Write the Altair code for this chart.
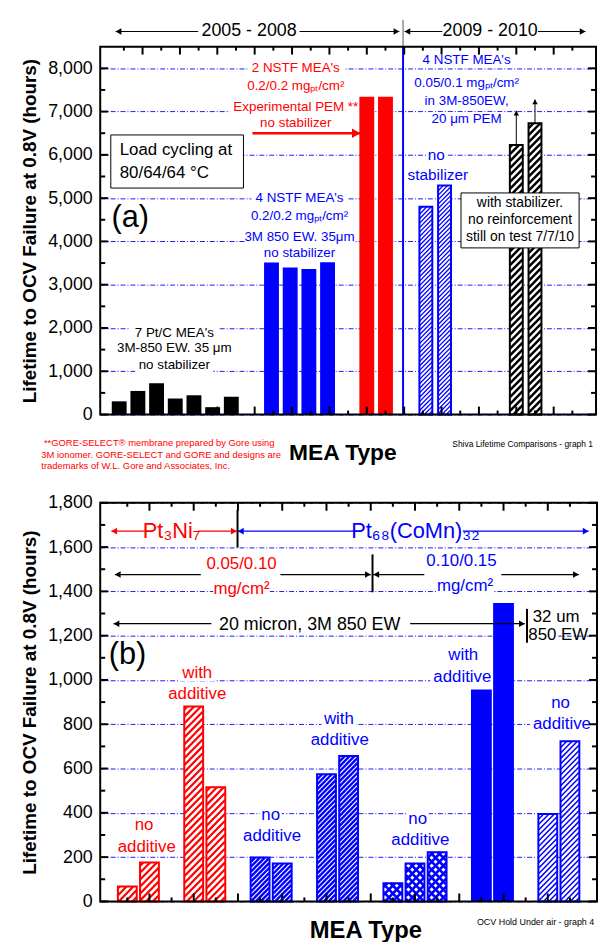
import altair as alt
import pandas as pd
import numpy as np

SANS = "Liberation Sans, Arial, Helvetica, sans-serif"
BLUE, RED, BLACK = "#0000ff", "#ff0000", "#000000"
YTITLE = "Lifetime to OCV Failure at 0.8V (hours)"

# ================= panel (a): load cycling lifetimes =================
a_black_pos = [0.375, 0.875, 1.375, 1.875, 2.375, 2.875, 3.375]
a_black_hours = [305, 545, 720, 370, 445, 170, 410]
a_blue_pos = [4.45, 4.95, 5.45, 5.95]
a_blue_hours = [3515, 3400, 3365, 3520]
a_red_pos = [7.0, 7.5]
a_red_hours = [7340, 7340]
a_bluehatch_pos = [8.58, 9.08]
a_bluehatch_hours = [4800, 5290]
a_blackhatch_pos = [11.0, 11.5]
a_blackhatch_hours = [6225, 6730]
a_running_to = [7020, 7280]

# ================= panel (b): OCV hold lifetimes =================
b_red_pos = [0.5, 1.0, 2.0, 2.5]
b_red_hours = [67, 176, 880, 515]
b_blue_pos = [3.5, 4.0, 5.0, 5.5]
b_blue_hours = [198, 171, 574, 657]
b_cross_pos = [6.5, 7.0, 7.5]
b_cross_hours = [82, 171, 222]
b_solid_pos = [8.5, 9.0]
b_solid_hours = [957, 1348]
b_light_pos = [10.0, 10.5]
b_light_hours = [395, 723]

# ================= annotations =================
a_texts = [
    ("2005 - 2008", 3.85, 8850, BLACK, 18),
    ("2009 - 2010", 10.3, 8850, BLACK, 18),
    ("2 NSTF MEA's", 5.1, 8000, RED, 13.5),
    ("0.2/0.2 mgₚₜ/cm²", 5.1, 7590, RED, 13.5),
    ("Experimental PEM **", 5.1, 7115, RED, 13.5),
    ("no stabilizer", 5.1, 6730, RED, 13.5),
    ("4 NSTF MEA's", 9.67, 8200, BLUE, 13.5),
    ("0.05/0.1 mgₚₜ/cm²", 9.67, 7660, BLUE, 13.5),
    ("in 3M-850EW,", 9.67, 7235, BLUE, 13.5),
    ("20 μm PEM", 9.67, 6835, BLUE, 13.5),
    ("no", 8.86, 5985, BLUE, 15.5),
    ("stabilizer", 8.9, 5535, BLUE, 15.5),
    ("4 NSTF MEA's", 5.2, 5000, BLUE, 13.5),
    ("0.2/0.2 mgₚₜ/cm²", 5.2, 4580, BLUE, 13.5),
    ("3M 850 EW. 35μm", 5.2, 4100, BLUE, 13.5),
    ("no stabilizer", 5.2, 3725, BLUE, 13.5),
    ("7  Pt/C MEA's", 1.85, 1886, BLACK, 13.5),
    ("3M-850 EW. 35 μm", 1.85, 1530, BLACK, 13.5),
    ("no stabilizer", 1.85, 1136, BLACK, 13.5),
    ("with stabilizer.", 11.1, 4896, BLACK, 14),
    ("no reinforcement", 11.1, 4500, BLACK, 14),
    ("still on test 7/7/10", 11.1, 4090, BLACK, 14),
]
a_texts_left = [
    ("Load cycling at", 0.39, 6117, BLACK, 17),
    ("80/64/64 °C", 0.39, 5569, BLACK, 17),
    ("(a)", 0.17, 4550, BLACK, 31),
    ("**GORE-SELECT® membrane prepared by Gore using", -1.64, -657, RED, 9.5),
    ("3M ionomer. GORE-SELECT and GORE and designs are", -1.71, -939, RED, 9.5),
    ("trademarks of W.L. Gore and Associates, Inc.", -1.71, -1180, RED, 9.5),
]
a_texts_right = [("Shiva Lifetime Comparisons - graph 1", 13.05, -680, BLACK, 8.5)]
a_texts_bold = [("MEA Type", 6.36, -887, BLACK, 23)]
a_lines = [
    (0.28, 8850, 2.49, 8850, BLACK, 1),
    (5.2, 8850, 7.87, 8850, BLACK, 1),
    (8.01, 8850, 9.02, 8850, BLACK, 1),
    (11.58, 8850, 12.85, 8850, BLACK, 1),
    (7.97, 8500, 7.97, 9119, "#555555", 1),
    (3.94, 6500, 6.82, 6500, RED, 2.5),
    (7.97, 0, 7.97, 8500, BLUE, 2),
]
a_heads = [
    (0.28, 8850, "left", BLACK, 45),
    (7.87, 8850, "right", BLACK, 45),
    (8.01, 8850, "left", BLACK, 45),
    (12.85, 8850, "right", BLACK, 45),
    (6.82, 6500, "right", RED, 90),
]
a_boxes = [(0.15, 5233, 3.70, 6460), (9.52, 3850, 12.68, 5120)]

b_texts = [
    ("Pt₃Ni₇", 1.50, 1672, RED, 22),
    ("Pt₆₈(CoMn)₃₂", 7.01, 1672, BLUE, 22),
    ("0.05/0.10", 3.08, 1522, RED, 17),
    ("mg/cm²", 3.08, 1411, RED, 17),
    ("0.10/0.15", 8.05, 1537, BLUE, 17),
    ("mg/cm²", 8.13, 1425, BLUE, 17),
    ("20 micron, 3M 850 EW", 4.62, 1246, BLACK, 18),
    ("with", 2.08, 1033, RED, 17), ("additive", 2.08, 937, RED, 17),
    ("no", 0.88, 346, RED, 17), ("additive", 0.94, 246, RED, 17),
    ("no", 3.74, 388, BLUE, 17), ("additive", 3.77, 296, BLUE, 17),
    ("with", 5.28, 824, BLUE, 17), ("additive", 5.30, 727, BLUE, 17),
    ("no", 7.06, 373, BLUE, 17), ("additive", 7.12, 276, BLUE, 17),
    ("with", 8.09, 1112, BLUE, 17), ("additive", 8.07, 1015, BLUE, 17),
    ("no", 10.29, 896, BLUE, 17), ("additive", 10.32, 802, BLUE, 17),
]
b_texts_left = [
    ("32 um", 9.66, 1284, BLACK, 17),
    ("850 EW", 9.56, 1201, BLACK, 17),
    ("(b)", 0.08, 1112, BLACK, 31),
]
b_texts_right = [("OCV Hold Under air - graph 4", 11.05, -93, BLACK, 9)]
b_texts_bold = [("MEA Type", 5.89, -134, BLACK, 24)]
b_lines = [
    (0.14, 1672, 0.91, 1672, RED, 1.2), (2.10, 1672, 2.97, 1672, RED, 1.2),
    (3.0, 1672, 5.66, 1672, BLUE, 1.2), (8.08, 1672, 10.92, 1672, BLUE, 1.2),
    (2.99, 1598, 2.99, 1768, BLACK, 2),
    (0.22, 1476, 2.16, 1476, BLACK, 1.2), (3.96, 1476, 6.0, 1476, BLACK, 1.2),
    (6.04, 1396, 6.04, 1567, BLACK, 2),
    (6.04, 1476, 7.21, 1476, BLACK, 1.2), (8.95, 1476, 10.7, 1476, BLACK, 1.2),
    (0.19, 1254, 2.40, 1254, BLACK, 1.2), (6.89, 1254, 9.48, 1254, BLACK, 1.2),
    (9.53, 1168, 9.53, 1321, BLACK, 2),
]
b_heads = [
    (0.14, 1672, "left", RED, 45), (2.97, 1672, "right", RED, 45),
    (3.0, 1672, "left", BLUE, 45), (10.92, 1672, "right", BLUE, 45),
    (0.22, 1476, "left", BLACK, 45), (6.0, 1476, "right", BLACK, 45),
    (6.06, 1476, "left", BLACK, 45), (10.7, 1476, "right", BLACK, 45),
    (0.19, 1254, "left", BLACK, 45), (9.48, 1254, "right", BLACK, 45),
]


def text_width(t, fs):
    w = 0.0
    for ch in t:
        if ch in "il.,'|/ tfrj()!:;":
            w += 0.3
        elif ch.isupper() or ch in "mwMW":
            w += 0.72
        elif ch in "ₚₜ₀₁₂₃₄₅₆₇₈₉²":
            w += 0.35
        else:
            w += 0.55
    return w * fs


class Panel:
    def __init__(self, W, H, xmax, ymax, ystep):
        self.W, self.H, self.xmax, self.ymax = W, H, xmax, ymax
        self.pxu, self.pxv = W / xmax, H / ymax
        self.xs = alt.Scale(domain=[0, xmax], nice=False, zero=False)
        self.ys = alt.Scale(domain=[0, ymax], nice=False, zero=False)
        self.yvals = [int(v) for v in range(0, int(ymax) + 1, ystep)]
        self.yminor = [v + ystep // 2 for v in self.yvals if v + ystep // 2 < ymax]
        self.yaxis = alt.Axis(
            values=self.yvals, format=",d", labelFont=SANS, labelFontSize=18,
            labelColor=BLACK, labelPadding=8, tickSize=0, domain=False,
            grid=True, gridColor=BLUE, gridDash=[5, 2, 1, 2], gridWidth=0.9,
            title=YTITLE, titleFont=SANS, titleFontSize=19, titleFontWeight="bold",
            titleColor=BLACK, titleX=-71, titleY=H / 2, titleAngle=270,
            titleAlign="center", titleBaseline="middle")
        self.L = []

    def X(self, f="x"):
        return alt.X(f + ":Q", scale=self.xs, axis=None)

    def Y(self, f="y"):
        return alt.Y(f + ":Q", scale=self.ys, axis=self.yaxis)

    def text_bgs(self, rows):
        out = []
        for t, u, v, c, s in rows:
            if 0 < v < self.ymax:
                hw = (text_width(t, s) + 4) / 2 / self.pxu
                hh = s * 0.5 / self.pxv
                out.append((u - hw, v - hh, u + hw, v + hh))
        df = pd.DataFrame(out, columns=["x", "y", "x2", "y2"])
        self.L.append(alt.Chart(df).mark_rect(fill="white")
                      .encode(x=self.X(), y=self.Y(), x2="x2:Q", y2="y2:Q"))

    def bars(self, pos, hrs, size, color):
        df = pd.DataFrame({"x": pos, "y": hrs})
        self.L.append(alt.Chart(df).mark_bar(size=size, fill=color, orient="vertical")
                      .encode(x=self.X(), y=self.Y()))

    def hatch_rows(self, pos, hrs, half, spacing, slope):
        rows = []
        for u, h in zip(pos, hrs):
            xl, xr, top = u * self.pxu - half, u * self.pxu + half, h * self.pxv
            if slope > 0:
                k0, k1 = int(np.floor((xl - top) / spacing)), int(np.ceil(xr / spacing))
                for k in range(k0, k1 + 1):
                    c = k * spacing
                    xa, xb = max(xl, c), min(xr, c + top)
                    if xb - xa > 0.3:
                        rows.append((xa / self.pxu, (xa - c) / self.pxv, xb / self.pxu, (xb - c) / self.pxv))
            else:
                k0, k1 = int(np.floor(xl / spacing)), int(np.ceil((xr + top) / spacing))
                for k in range(k0, k1 + 1):
                    c = k * spacing
                    xa, xb = max(xl, c - top), min(xr, c)
                    if xb - xa > 0.3:
                        rows.append((xa / self.pxu, (c - xa) / self.pxv, xb / self.pxu, (c - xb) / self.pxv))
        return rows

    def hatched(self, pos, hrs, size, color, spacing, width, cross=False, outline=2):
        df = pd.DataFrame({"x": pos, "y": hrs})
        self.L.append(alt.Chart(df).mark_bar(size=size, fill="white", orient="vertical")
                      .encode(x=self.X(), y=self.Y()))
        rows = self.hatch_rows(pos, hrs, size / 2, spacing, 1)
        if cross:
            rows += self.hatch_rows(pos, hrs, size / 2, spacing, -1)
        hd = pd.DataFrame(rows, columns=["x", "y", "x2", "y2"])
        self.L.append(alt.Chart(hd).mark_rule(color=color, strokeWidth=width, strokeCap="butt")
                      .encode(x=self.X(), y=self.Y(), x2="x2:Q", y2="y2:Q"))
        self.L.append(alt.Chart(df).mark_bar(size=size, fill="white", fillOpacity=0, stroke=color,
                                             strokeWidth=outline, orient="vertical")
                      .encode(x=self.X(), y=self.Y()))

    def lines(self, rows):
        df = pd.DataFrame(rows, columns=["x", "y", "x2", "y2", "c", "w"])
        self.L.append(alt.Chart(df).mark_rule(strokeCap="butt").encode(
            x=self.X(), y=self.Y(), x2="x2:Q", y2="y2:Q",
            color=alt.Color("c:N", scale=None), size=alt.Size("w:Q", scale=None)))

    def heads(self, rows):
        out = []
        for u, v, d, c, s in rows:
            h = np.sqrt(s) * np.sqrt(3) / 4
            if d == "right":
                out.append((u - h / self.pxu, v, "triangle-right", c, s))
            elif d == "left":
                out.append((u + h / self.pxu, v, "triangle-left", c, s))
            else:
                out.append((u, v - h / self.pxv, "triangle-up", c, s))
        df = pd.DataFrame(out, columns=["x", "y", "sh", "c", "s"])
        self.L.append(alt.Chart(df).mark_point(filled=True, opacity=1, strokeWidth=0).encode(
            x=self.X(), y=self.Y(), shape=alt.Shape("sh:N", scale=None),
            color=alt.Color("c:N", scale=None), size=alt.Size("s:Q", scale=None)))

    def boxes(self, rows):
        df = pd.DataFrame(rows, columns=["x", "y", "x2", "y2"])
        self.L.append(alt.Chart(df).mark_rect(fill="white", stroke=BLACK, strokeWidth=1)
                      .encode(x=self.X(), y=self.Y(), x2="x2:Q", y2="y2:Q"))

    def texts(self, rows, align="center", weight="normal", font=SANS):
        df = pd.DataFrame(rows, columns=["t", "x", "y", "c", "s"])
        self.L.append(alt.Chart(df).mark_text(align=align, baseline="middle", font=font,
                                              fontWeight=weight).encode(
            x=self.X(), y=self.Y(), text="t:N",
            color=alt.Color("c:N", scale=None), size=alt.Size("s:Q", scale=None)))

    def ticks(self):
        def rule(df):
            return alt.Chart(df).mark_rule(color=BLACK, strokeWidth=2, strokeCap="butt")
        ymaj = pd.DataFrame({"y": self.yvals})
        ymin = pd.DataFrame({"y": self.yminor})
        for df, ln in ((ymaj, 8), (ymin, 5)):
            self.L.append(rule(df).encode(y=self.Y(), x=alt.value(0), x2=alt.value(ln)))
            self.L.append(rule(df).encode(y=self.Y(), x=alt.value(self.W), x2=alt.value(self.W - ln)))
        xmaj = pd.DataFrame({"x": [float(k) for k in range(1, int(self.xmax))]})
        xmin = pd.DataFrame({"x": [k + 0.5 for k in range(int(self.xmax))]})
        for df, ln in ((xmaj, 8), (xmin, 4)):
            self.L.append(rule(df).encode(x=self.X(), y=alt.value(self.H), y2=alt.value(self.H - ln)))
            self.L.append(rule(df).encode(x=self.X(), y=alt.value(0), y2=alt.value(ln)))
        self.L.append(alt.Chart(pd.DataFrame({"d": [0]})).mark_rect(
            fill="white", fillOpacity=0, stroke=BLACK, strokeWidth=2).encode(
            x=alt.value(0), x2=alt.value(self.W), y=alt.value(0), y2=alt.value(self.H)))

    def chart(self):
        return alt.layer(*self.L).properties(width=self.W, height=self.H)


# ---------- panel (a) ----------
A = Panel(500, 371, 13.0, 8500.0, 1000)
A.text_bgs(a_texts)
A.bars(a_black_pos, a_black_hours, 15, BLACK)
A.bars(a_blue_pos, a_blue_hours, 15, BLUE)
A.bars(a_red_pos, a_red_hours, 15, RED)
A.hatched(a_bluehatch_pos, a_bluehatch_hours, 13, BLUE, 4.5, 1.3)
A.hatched(a_blackhatch_pos, a_blackhatch_hours, 13, BLACK, 7, 2.5)
A.lines(a_lines + [(x, y0, x, y1, BLACK, 1) for x, y0, y1 in
                   zip(a_blackhatch_pos, a_blackhatch_hours, a_running_to)])
A.heads(a_heads + [(x, y1, "up", BLACK, 30) for x, y1 in zip(a_blackhatch_pos, a_running_to)])
A.boxes(a_boxes)
A.texts(a_texts)
A.texts(a_texts_left, align="left")
A.texts(a_texts_right, align="right")
A.texts(a_texts_bold, weight="bold")
A.ticks()

# ---------- panel (b) ----------
B = Panel(501, 402, 11.0, 1800.0, 200)
B.text_bgs(b_texts + b_texts_left[:2])
B.hatched(b_red_pos, b_red_hours, 19, RED, 7, 2.2)
B.hatched(b_blue_pos, b_blue_hours, 19, BLUE, 5, 2.4)
B.hatched(b_cross_pos, b_cross_hours, 19, BLUE, 8, 2.6, cross=True)
B.bars(b_solid_pos, b_solid_hours, 21, BLUE)
B.hatched(b_light_pos, b_light_hours, 19, BLUE, 5.5, 1.5)
B.lines(b_lines)
B.heads(b_heads)
B.texts(b_texts)
B.texts(b_texts_left, align="left")
B.texts(b_texts_right, align="right")
B.texts(b_texts_bold, weight="bold")
B.ticks()

chart = (
    alt.vconcat(A.chart(), B.chart(), spacing=23)
    .resolve_scale(x="independent", y="independent")
    .properties(padding={"left": 12, "top": 7, "right": 0, "bottom": 0}, background="white")
    .configure_view(strokeOpacity=0)
)
chart.save("out.html", embed_options={"renderer": "svg", "actions": False})
